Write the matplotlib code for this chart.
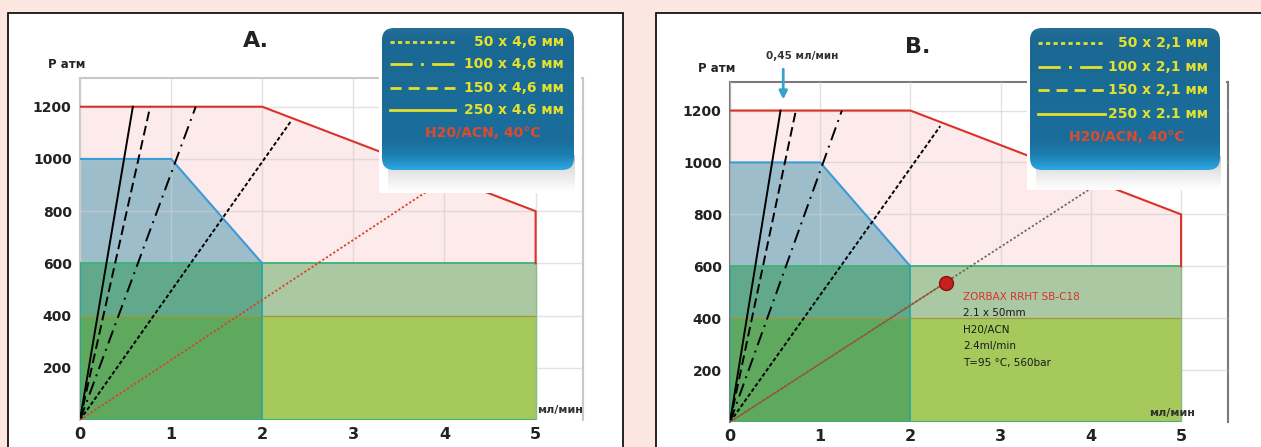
import matplotlib
matplotlib.use("Agg")
import matplotlib.pyplot as plt
import numpy as np
from matplotlib.patches import Rectangle, FancyBboxPatch
from matplotlib.colors import LinearSegmentedColormap

W, H = 1261, 447

# axis ticks
flow_ticks = [0, 1, 2, 3, 4, 5]
pressure_ticks = [200, 400, 600, 800, 1000, 1200]

# pump pressure limit (red) and column limit (blue)
pump_flow = [0, 2, 5, 5]
pump_p = [1200, 1200, 800, 600]
column_flow = [0, 1, 2]
column_p = [1000, 1000, 600]

# green bands: low / high pressure, split at 2 ml/min, end at 5 ml/min
band_levels = [400, 600]
band_split = 2
band_end = 5

# column pressure lines (end points), order: 250, 150, 100, 50 mm
a_end_flow = [0.58, 0.77, 1.27, 2.32]
a_end_p = [1200, 1200, 1200, 1147]
b_end_flow = [0.56, 0.73, 1.24, 2.33]
b_end_p = [1200, 1200, 1200, 1140]
line_styles = ["-", (0, (5, 2.5)), (0, (7, 3, 1, 3)), (0, (2, 1.2))]

# red dotted flow line
a_red_flow = [0, 4.0]
a_red_p = [0, 920]
b_red_flow = [0, 4.0]
b_red_p = [0, 900]

# ZORBAX point in B
zorbax_flow = 2.39
zorbax_p = 537
zorbax_lines = ["2.1 x 50mm", "H20/ACN", "2.4ml/min", "T=95 °C, 560bar"]

legend_a = ["50 x 4,6 мм", "100 x 4,6 мм", "150 x 4,6 мм", "250 x 4.6 мм"]
legend_b = ["50 x 2,1 мм", "100 x 2,1 мм", "150 x 2,1 мм", "250 x 2.1 мм"]
legend_styles = [(0, (1.5, 1.2)), (0, (8, 3, 1, 3)), (0, (4, 2.5)), "-"]

COLORS = {
    "bg": "#fbe6e0",
    "pink": "#fdeaea",
    "red": "#d8322a",
    "blue_fill": "#9dbdcb",
    "blue_edge": "#3b9bd8",
    "teal": "#62a98c",
    "sage": "#aac9a2",
    "green": "#5fa95e",
    "yellow_green": "#a6c95b",
    "green_edge": "#3cb277",
    "olive": "#a0963e",
    "legend_text": "#e4e02c",
}

fig = plt.figure(figsize=(W / 100, H / 100), dpi=100)
fig.patch.set_facecolor(COLORS["bg"])

# white panels with black frame
for px in (8, 656):
    fig.add_artist(Rectangle((px / W, -0.1), 615 / W, 1.1 - 13 / H,
                             transform=fig.transFigure, facecolor="white",
                             edgecolor="black", linewidth=1.2, zorder=0))


def draw_panel(ax, end_flow, end_p, red_flow, red_p, frame_color, red_color, red_style):
    ax.set_xlim(0, 5.52)
    ax.set_ylim(0, 1310)
    ax.set_facecolor("white")

    pf = [pump_flow[0]] + pump_flow + [pump_flow[-1]]
    pp = [0] + pump_p + [0]
    ax.fill(pf, pp, color=COLORS["pink"], zorder=1, linewidth=0)
    ax.plot(pump_flow, pump_p, color=COLORS["red"], lw=1.5, zorder=6)

    cf = [0] + column_flow + [column_flow[-1]]
    cp = [0] + column_p + [0]
    ax.fill(cf, cp, color=COLORS["blue_fill"], zorder=2, linewidth=0)
    ax.plot(column_flow, column_p, color=COLORS["blue_edge"], lw=1.5, zorder=6)

    lo, hi = band_levels
    ax.fill_between([0, band_split], lo, hi, color=COLORS["teal"], lw=0, zorder=3)
    ax.fill_between([band_split, band_end], lo, hi, color=COLORS["sage"], lw=0, zorder=3)
    ax.fill_between([0, band_split], 0, lo, color=COLORS["green"], lw=0, zorder=3)
    ax.fill_between([band_split, band_end], 0, lo, color=COLORS["yellow_green"], lw=0, zorder=3)
    ax.plot([0, band_end], [hi, hi], color=COLORS["green_edge"], lw=1.3, zorder=5)
    ax.plot([0, band_end], [lo, lo], color=COLORS["olive"], lw=0.9, zorder=5)
    ax.plot([0, band_end], [0, 0], color=COLORS["green_edge"], lw=1.5, zorder=5)
    ax.plot([band_split, band_split], [0, hi], color="#2aa69a", lw=1.3, zorder=5)
    ax.plot([band_end, band_end], [0, hi], color="#8fb98a", lw=1.0, zorder=5)
    ax.plot([0, 0], [0, hi], color="#2aa69a", lw=1.3, zorder=5)

    ax.grid(True, color="#cfcfcf", alpha=0.6, lw=1, zorder=4)
    ax.set_axisbelow(False)
    for gl in ax.get_xgridlines() + ax.get_ygridlines():
        gl.set_zorder(4)

    for fx, py, ls in zip(end_flow, end_p, line_styles):
        ax.plot([0, fx], [0, py], color="black", lw=1.4, linestyle=ls, zorder=7)

    ax.plot(red_flow, red_p, color=red_color, lw=1.3, linestyle=red_style, zorder=7)

    ax.set_xticks(flow_ticks)
    ax.set_yticks(pressure_ticks)
    ax.tick_params(axis="both", length=0, colors="#222222")
    ax.tick_params(axis="x", pad=5, labelsize=11.5)
    ax.tick_params(axis="y", pad=6, labelsize=10)
    for lab in ax.get_xticklabels() + ax.get_yticklabels():
        lab.set_fontweight("bold")

    for sp in ax.spines.values():
        sp.set_color(frame_color)
        sp.set_linewidth(1.5)
    ax.spines["bottom"].set_visible(False)

    ax.text(-0.15, 1362, "P атм", ha="center", va="center", fontsize=8.5,
            fontweight="bold", color="#222222", clip_on=False)


ax_a = fig.add_axes([80 / W, 1 - 420 / H, 503 / W, 342 / H])
draw_panel(ax_a, a_end_flow, a_end_p, a_red_flow, a_red_p, "#c8c8c8",
           "#d8402a", (0, (1.2, 1.2)))
ax_a.text(1.93, 1450, "A.", ha="center", va="center", fontsize=16,
          fontweight="bold", color="#222222", clip_on=False)
ax_a.text(5.27, 40, "мл/мин", ha="center", va="center", fontsize=8,
          fontweight="bold", color="#333333", zorder=8)

ax_b = fig.add_axes([730 / W, 1 - 422 / H, 498 / W, 340 / H])
draw_panel(ax_b, b_end_flow, b_end_p, b_red_flow, b_red_p, "#7a7a7a",
           "#6b6b55", (0, (1.2, 1.2)))
ax_b.plot([0, zorbax_flow], [0, zorbax_p], color="#9a5436", lw=0.9, zorder=7)
ax_b.plot([zorbax_flow], [zorbax_p], "o", ms=10, color="#c8201e",
          markeredgecolor="#8a1010", zorder=9)
ax_b.text(2.58, 483, "ZORBAX RRHT SB-C18", ha="left", va="center",
          fontsize=7.5, color="#d8322a", zorder=9)
for i, line in enumerate(zorbax_lines):
    ax_b.text(2.58, 483 - 64 * (i + 1), line, ha="left", va="center",
              fontsize=7.5, color="#1a1a1a", zorder=9)
ax_b.text(2.08, 1446, "B.", ha="center", va="center", fontsize=16,
          fontweight="bold", color="#222222", clip_on=False)
ax_b.text(4.9, 36, "мл/мин", ha="center", va="center", fontsize=8,
          fontweight="bold", color="#333333", zorder=8)
ax_b.annotate("", xy=(0.59, 1232), xytext=(0.59, 1370),
              arrowprops=dict(arrowstyle="-|>", color="#3aa0d0", lw=2,
                              mutation_scale=12),
              annotation_clip=False, zorder=9)
ax_b.text(0.8, 1412, "0,45 мл/мин", ha="center", va="center", fontsize=7.5,
          fontweight="bold", color="#333333", clip_on=False)

box_cmap = LinearSegmentedColormap.from_list(
    "box", [(0.0, "#236f98"), (0.08, "#1a6893"), (0.8, "#1b6e9c"),
            (0.9, "#1d7fb3"), (1.0, "#2ca8e2")])
shadow_cmap = LinearSegmentedColormap.from_list("shadow", ["#a6a6a6", "#ffffff"])


def draw_legend(x0, x1, y0, y1, bx0, bx1, by1, labels, line_x0, line_x1, text_x, rows, note_x):
    lax = fig.add_axes([x0 / W, 1 - y1 / H, (x1 - x0) / W, (y1 - y0) / H])
    lax.set_xlim(x0, x1)
    lax.set_ylim(y1, y0)
    lax.set_xticks([])
    lax.set_yticks([])
    for sp in lax.spines.values():
        sp.set_visible(False)
    lax.set_facecolor("white")
    lax.set_zorder(20)

    # soft shadow below the box
    sh = np.linspace(0, 1, 64).reshape(-1, 1) ** 0.7
    lax.imshow(sh, extent=(bx0 + 6, bx1 + 1, y1 - 1, by1 - 14), cmap=shadow_cmap,
               aspect="auto", alpha=0.7, zorder=1)

    box = FancyBboxPatch((bx0, y0 + 1), bx1 - bx0, by1 - y0 - 1,
                         boxstyle="round,pad=0,rounding_size=12",
                         facecolor="none", edgecolor="none", zorder=2)
    lax.add_patch(box)
    grad = np.linspace(0, 1, 128).reshape(-1, 1)
    im = lax.imshow(grad, extent=(bx0, bx1, by1, y0 + 1), cmap=box_cmap,
                    aspect="auto", zorder=2)
    im.set_clip_path(box)

    for yy, lab, ls in zip(rows[:4], labels, legend_styles):
        lax.plot([line_x0, line_x1], [yy, yy], color=COLORS["legend_text"],
                 lw=2, linestyle=ls, zorder=3)
        lax.text(text_x, yy, lab, ha="right", va="center", fontsize=10,
                 fontweight="bold", color=COLORS["legend_text"], zorder=3)
    lax.text(note_x, rows[4], "H20/ACN, 40°C", ha="center", va="center",
             fontsize=10, fontweight="bold", color="#e04a2c", zorder=3)


draw_legend(379, 581, 27, 193, 382, 574, 170, legend_a, 390, 455, 564,
            [42, 64, 88, 110, 133], 483)
draw_legend(1027, 1226, 27, 190, 1030, 1220, 170, legend_b, 1038, 1105, 1208,
            [43, 67, 90, 114, 137], 1127)

fig.savefig("out.png", dpi=100, facecolor=fig.get_facecolor())
